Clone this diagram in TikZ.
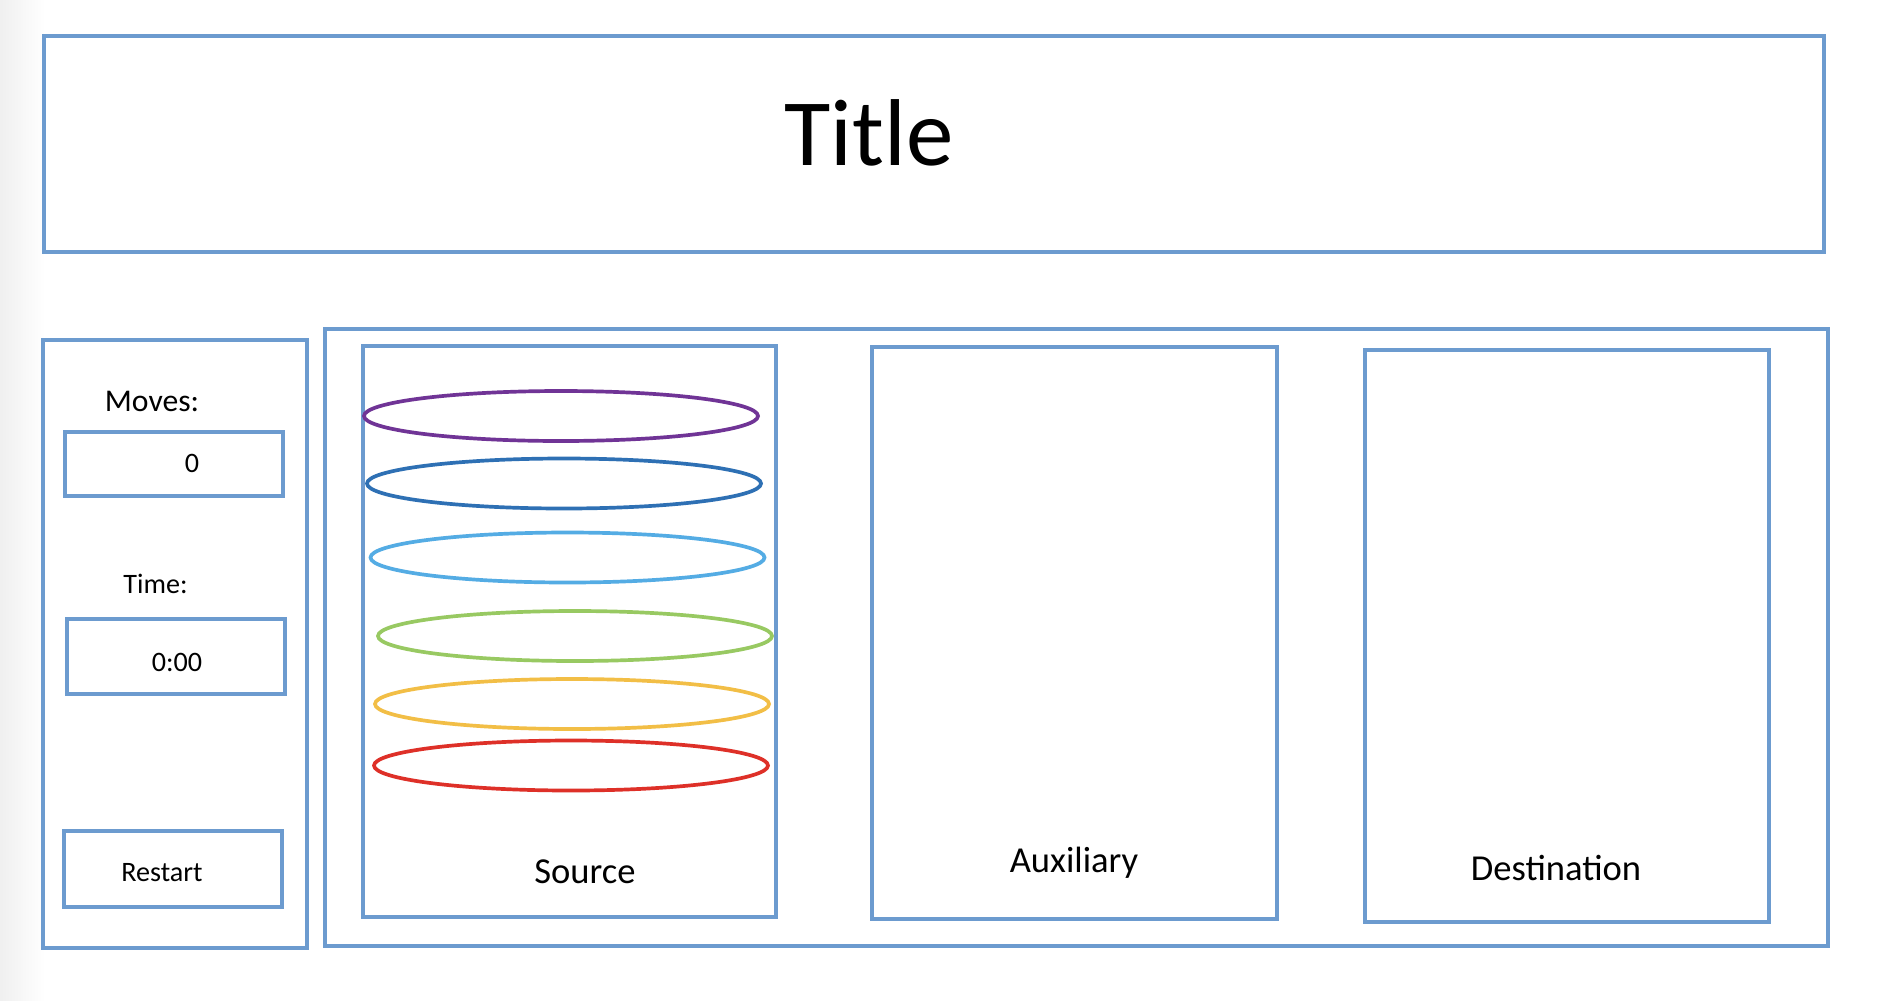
\documentclass[tikz,border=0pt]{standalone}
\usepackage{fontspec}
\setmainfont{Carlito}
\usepackage{xcolor}
\definecolor{frameblue}{RGB}{108,155,207}
\definecolor{diskpurple}{RGB}{112,52,150}
\definecolor{diskdblue}{RGB}{46,112,180}
\definecolor{disklblue}{RGB}{84,172,228}
\definecolor{diskgreen}{RGB}{152,201,98}
\definecolor{diskyellow}{RGB}{242,190,70}
\definecolor{diskred}{RGB}{222,48,40}
\tikzstyle{frame}=[draw=frameblue,line width=1.1pt]
\tikzstyle{disk}=[line width=1.05pt]
\tikzstyle{lbl}=[inner sep=0pt,anchor=base]
\tikzstyle{bigtext}=[lbl,font=\fontsize{27pt}{32pt}\selectfont]
\tikzstyle{towertext}=[lbl,font=\fontsize{10.4pt}{12pt}\selectfont]
\tikzstyle{smalltext}=[lbl,font=\fontsize{8pt}{10pt}\selectfont]
\def\panel#1#2{\draw[frame] (#1) rectangle (#2)}

\begin{document}
\begin{tikzpicture}[x=0.01cm,y=-0.01cm]
      \useasboundingbox (0,0) rectangle (1880,1000);
      \fill[white] (0,0) rectangle (1880,1000);
      \shade[left color=black!6,right color=white] (0,0) rectangle (45,1000);
      \coordinate (T1) at (44,36);    \coordinate (T2) at (1824,252);
      \coordinate (L1) at (43,340);   \coordinate (L2) at (307,948);
      \coordinate (M1) at (325,329);  \coordinate (M2) at (1828,946);
      \coordinate (S1) at (363,346);  \coordinate (S2) at (776,917);
      \coordinate (A1) at (872,347);  \coordinate (A2) at (1277,919);
      \coordinate (D1) at (1365,350); \coordinate (D2) at (1769,922);
      \coordinate (MV1) at (65,432);  \coordinate (MV2) at (283,496);
      \coordinate (TM1) at (67,619);  \coordinate (TM2) at (285,694);
      \coordinate (R1) at (64,831);   \coordinate (R2) at (282,907);
      
      % FRAMES
      \panel{T1}{T2};
      \panel{L1}{L2};
      \panel{M1}{M2};
      \panel{S1}{S2};
      \panel{A1}{A2};
      \panel{D1}{D2};
      \panel{MV1}{MV2};
      \panel{TM1}{TM2};
      \panel{R1}{R2};
      
      % LABELS
      \node[bigtext] (title) at (869,165) {Title};
      \node[lbl,font=\fontsize{9pt}{11pt}\selectfont] (moves) at (152,411) {Moves:};
      \node[smalltext] (movesval) at (192,472) {0};
      \node[smalltext] (time) at (155.5,593) {Time:};
      \node[smalltext] (timeval) at (177,671) {0:00};
      \node[smalltext] (restart) at (162,881) {Restart};
      \node[towertext] (source) at (585,883) {Source};
      \node[towertext] (aux) at (1074,872) {Auxiliary};
      \node[towertext] (dest) at (1556,880) {Destination};
      
      % DISKS
      \foreach \cx/\cy/\col in {561/416/diskpurple,564/483.5/diskdblue,
          567.5/557.5/disklblue,575/636/diskgreen,572/704/diskyellow,571/765.5/diskred}
        \draw[disk,\col] (\cx,\cy) ellipse (197 and 25);
      
    \end{tikzpicture}
\end{document}
